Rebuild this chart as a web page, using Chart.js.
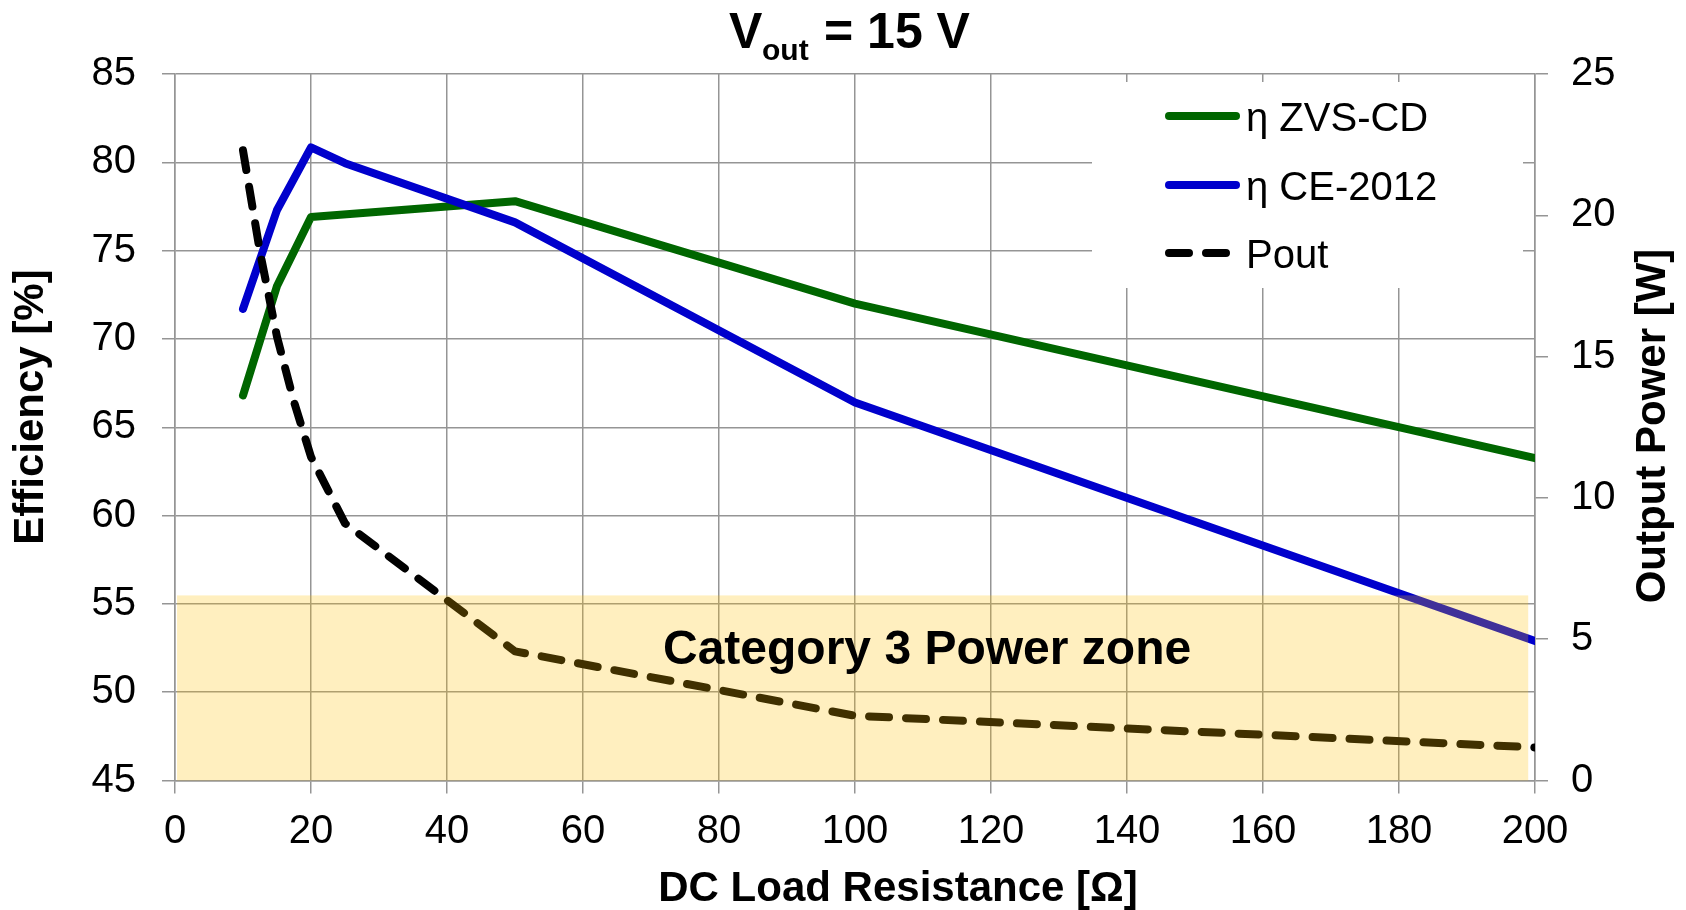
<!DOCTYPE html>
<html>
<head>
<meta charset="utf-8">
<script src="https://cdn.jsdelivr.net/npm/chart.js@4.4.0/dist/chart.umd.min.js"></script>
<style>
  html, body { margin: 0; padding: 0; background: #fff; }
</style>
</head>
<body>
<canvas id="graficoEficiencia" width="1686" height="910"></canvas>
<script>
// datos
const rZvs = [10, 15, 20, 50, 100, 200];
const efZvs = [66.8, 73.0, 76.9, 77.8, 72.0, 63.25];

const rCe = [10, 15, 20, 25, 50, 100, 200];
const efCe = [71.7, 77.3, 80.85, 79.95, 76.6, 66.4, 52.9];

const rPout = [10, 12.5, 15, 17.5, 20, 25, 50, 100, 200];
const pout = [22.3, 18.7, 15.7, 13.4, 11.45, 9.1, 4.57, 2.29, 1.17];

const ticksX = [0, 200, 20];      // min, max, paso
const ticksEf = [45, 85, 5];
const ticksPot = [0, 25, 5];

// zona categoria 3: resistencia desde/hasta y potencia maxima
const zonaR = [0.3, 199];
const zonaPot = 6.55;

const FUENTE = "'Liberation Sans', Arial, sans-serif";
const GRIS = "#959595";

const puntos = (xs, ys) => xs.map((x, i) => ({ x: x, y: ys[i] }));

const zonaPlugin = {
  id: "zona",
  afterDatasetsDraw(chart) {
    const { ctx, scales } = chart;
    const x0 = scales.x.getPixelForValue(zonaR[0]);
    const x1 = scales.x.getPixelForValue(zonaR[1]);
    const yTop = scales.y2.getPixelForValue(zonaPot);
    const yBot = scales.y2.getPixelForValue(0);
    ctx.save();
    ctx.fillStyle = "rgba(255, 192, 0, 0.25)";
    ctx.fillRect(x0, yTop, x1 - x0, yBot - yTop);
    ctx.fillStyle = "#000";
    ctx.font = "bold 48px " + FUENTE;
    ctx.textAlign = "center";
    ctx.textBaseline = "alphabetic";
    ctx.fillText("Category 3 Power zone", scales.x.getPixelForValue(110.6), scales.y2.getPixelForValue(4.14));
    ctx.restore();
  }
};

const leyendaPlugin = {
  id: "leyenda",
  afterDraw(chart) {
    const ctx = chart.ctx;
    const items = [
      { texto: "η ZVS-CD", color: "#006600", dash: [] },
      { texto: "η CE-2012", color: "#0000CC", dash: [] },
      { texto: "Pout", color: "#000", dash: [20, 17] }
    ];
    const filas = [116, 185, 253];
    ctx.save();
    ctx.fillStyle = "#fff";
    ctx.fillRect(1092, 82, 431, 206);
    items.forEach((it, i) => {
      const y = filas[i];
      ctx.beginPath();
      ctx.setLineDash(it.dash);
      ctx.lineCap = "round";
      ctx.lineWidth = 8;
      ctx.strokeStyle = it.color;
      ctx.moveTo(1169, y);
      ctx.lineTo(it.dash.length ? 1226 : 1236, y);
      ctx.stroke();
      ctx.setLineDash([]);
      ctx.fillStyle = "#000";
      ctx.font = "40px " + FUENTE;
      ctx.textAlign = "left";
      ctx.textBaseline = "alphabetic";
      ctx.fillText(it.texto, 1246, y + 15);
    });
    ctx.restore();
  }
};

const titulosPlugin = {
  id: "titulos",
  afterDraw(chart) {
    const ctx = chart.ctx;
    ctx.save();
    ctx.fillStyle = "#000";
    ctx.textBaseline = "alphabetic";
    // titulo con subindice
    ctx.textAlign = "left";
    ctx.font = "bold 50px " + FUENTE;
    ctx.fillText("V", 729, 48);
    ctx.font = "bold 30px " + FUENTE;
    ctx.fillText("out", 762, 60);
    ctx.font = "bold 50px " + FUENTE;
    ctx.textAlign = "center";
    ctx.fillText("= 15 V", 897, 48);

    ctx.font = "bold 42px " + FUENTE;
    ctx.fillText("DC Load Resistance [Ω]", 898, 901);

    ctx.textBaseline = "middle";
    ctx.save();
    ctx.translate(31, 407);
    ctx.rotate(-Math.PI / 2);
    ctx.fillText("Efficiency [%]", 0, 0);
    ctx.restore();

    ctx.save();
    ctx.translate(1653, 426);
    ctx.rotate(-Math.PI / 2);
    ctx.fillText("Output Power [W]", 0, 0);
    ctx.restore();
    ctx.restore();
  }
};

const ejeComun = {
  type: "linear",
  grid: { color: GRIS, lineWidth: 1.5, tickLength: 13, tickColor: GRIS },
  border: { color: GRIS, width: 1.5 },
};

new Chart(document.getElementById("graficoEficiencia"), {
  type: "line",
  data: {
    datasets: [
      {
        label: "Pout",
        data: puntos(rPout, pout),
        yAxisID: "y2",
        borderColor: "#000",
        borderWidth: 8,
        borderDash: [20, 17],
        borderCapStyle: "round",
        borderJoinStyle: "round",
        pointRadius: 0,
        order: 0
      },
      {
        label: "η CE-2012",
        data: puntos(rCe, efCe),
        yAxisID: "y",
        borderColor: "#0000CC",
        borderWidth: 8,
        borderCapStyle: "round",
        borderJoinStyle: "round",
        pointRadius: 0,
        order: 1
      },
      {
        label: "η ZVS-CD",
        data: puntos(rZvs, efZvs),
        yAxisID: "y",
        borderColor: "#006600",
        borderWidth: 8,
        borderCapStyle: "round",
        borderJoinStyle: "round",
        pointRadius: 0,
        order: 2
      }
    ]
  },
  options: {
    responsive: false,
    animation: false,
    devicePixelRatio: 1,
    layout: { padding: { top: 74, left: 0, right: 0, bottom: 0 } },
    plugins: {
      legend: { display: false },
      tooltip: { enabled: false },
      title: { display: false }
    },
    scales: {
      x: {
        ...ejeComun,
        position: "bottom",
        min: ticksX[0],
        max: ticksX[1],
        ticks: { stepSize: ticksX[2], color: "#000", font: { family: FUENTE, size: 40 }, padding: 14, maxRotation: 0 },
        afterFit: s => { s.height = 129.5; }
      },
      y: {
        ...ejeComun,
        position: "left",
        min: ticksEf[0],
        max: ticksEf[1],
        ticks: { stepSize: ticksEf[2], color: "#000", font: { family: FUENTE, size: 40 }, padding: 26 },
        afterFit: s => { s.width = 175; }
      },
      y2: {
        ...ejeComun,
        position: "right",
        min: ticksPot[0],
        max: ticksPot[1],
        grid: { ...ejeComun.grid, drawOnChartArea: false },
        ticks: { stepSize: ticksPot[2], color: "#000", font: { family: FUENTE, size: 40 }, padding: 23 },
        afterFit: s => { s.width = 151; }
      }
    }
  },
  plugins: [zonaPlugin, leyendaPlugin, titulosPlugin]
});
</script>
</body>
</html>
